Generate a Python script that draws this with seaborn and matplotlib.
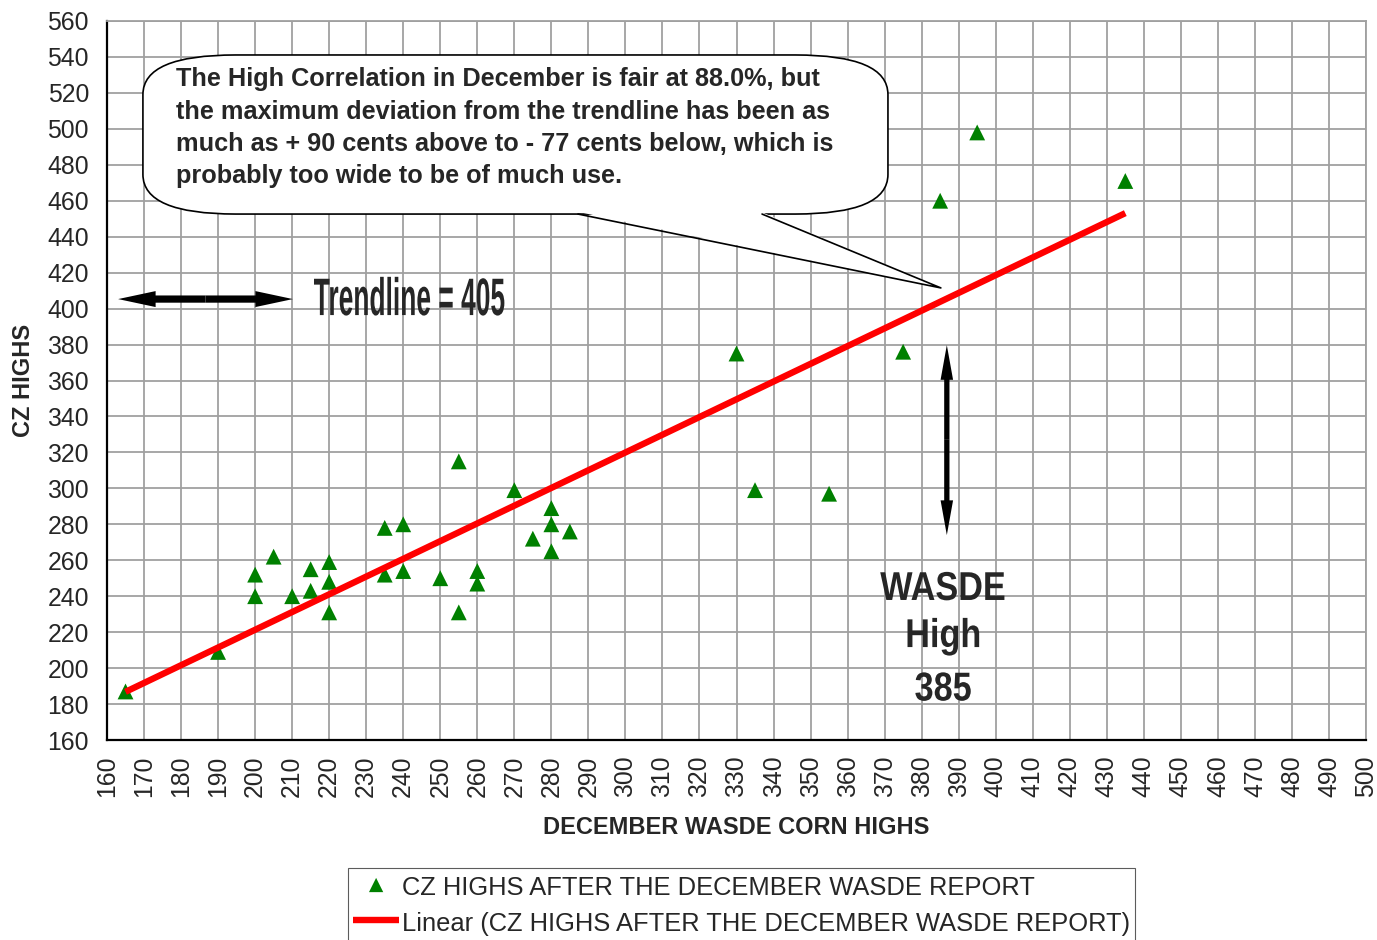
import numpy as np
import pandas as pd
import matplotlib
matplotlib.use('Agg')
import matplotlib.pyplot as plt
import matplotlib.patheffects as pe
from matplotlib.patches import FancyBboxPatch, Polygon, FancyArrowPatch
from matplotlib.transforms import Affine2D
import seaborn as sns

# valeurs
wasde = [165, 190, 200, 200, 205, 210, 215, 215, 220, 220, 220, 235, 235, 240, 240,
         250, 255, 255, 260, 260, 270, 275, 280, 280, 280, 285, 330, 335, 355, 375,
         385, 395, 435]
cz = [187, 209, 252, 240, 262, 240, 255, 243, 259, 248, 231, 278, 252, 280, 254,
      250, 315, 231, 254, 247, 299, 272, 289, 280, 265, 276, 375, 299, 297, 376,
      460, 498, 471]

series_name = "CZ HIGHS AFTER THE DECEMBER WASDE REPORT"
callout_lines = ["The High Correlation in December is fair at 88.0%, but",
                 "the maximum deviation from the trendline has been as",
                 "much as + 90 cents above to - 77 cents below, which is",
                 "probably too wide to be of much use."]
x_ticks = list(range(160, 501, 10))
y_ticks = list(range(160, 561, 20))


class Squeeze(pe.AbstractPathEffect):
    # compresse le texte horizontalement autour de son centre
    def __init__(self, sx):
        super().__init__()
        self.sx = sx

    def draw_path(self, renderer, gc, tpath, affine, rgbFace=None):
        ext = tpath.get_extents()
        cx = (ext.x0 + ext.x1) / 2
        a = Affine2D().translate(-cx, 0).scale(self.sx, 1).translate(cx, 0) + affine
        renderer.draw_path(gc, tpath, a, rgbFace)


sns.set_style("white")
plt.rcParams['font.family'] = ['Liberation Sans', 'DejaVu Sans']

df = pd.DataFrame({"wasde": wasde, "cz": cz})

fig = plt.figure(figsize=(13.77, 9.40), dpi=100)
ax = fig.add_axes([107 / 1377, 1 - 740 / 940, (1366 - 107) / 1377, (740 - 21) / 940])

sns.scatterplot(data=df, x="wasde", y="cz", marker="^", color="#008000", s=130,
                edgecolor="none", ax=ax, label=series_name, zorder=3)

# tendance lineaire (moindres carres)
coef = np.polyfit(df["wasde"], df["cz"], 1)
xs = np.array([df["wasde"].min(), df["wasde"].max()])
ax.plot(xs, np.polyval(coef, xs), color="#ff0000", lw=4.6, solid_capstyle="butt",
        zorder=4, label="Linear (" + series_name + ")")

ax.set_xlim(160, 500)
ax.set_ylim(160, 560)
ax.set_xticks(x_ticks)
ax.set_yticks(y_ticks)
ax.set_xticklabels([str(v) for v in x_ticks], rotation=90)
ax.tick_params(axis="both", labelsize=17.8, length=7, width=1.5, color="black",
               direction="out")
ax.tick_params(axis="y", pad=6)
ax.tick_params(axis="x", pad=4)
ax.grid(True, color="#a0a0a0", lw=1.3)
ax.set_axisbelow(True)
for s in ["left", "bottom"]:
    ax.spines[s].set_color("black")
    ax.spines[s].set_linewidth(1.6)
for s in ["top", "right"]:
    ax.spines[s].set_color("#a0a0a0")
    ax.spines[s].set_linewidth(1.3)

ax.set_xlabel("DECEMBER WASDE CORN HIGHS", fontsize=17, fontweight="bold", labelpad=14)
ax.set_ylabel("CZ HIGHS", fontsize=17, fontweight="bold", labelpad=9)

# bulle de commentaire
box = FancyBboxPatch((169.7, 452.6), 201.2, 88.5,
                     boxstyle="round,pad=0,rounding_size=25", mutation_aspect=0.88,
                     facecolor="white", edgecolor="black", lw=1.2, zorder=5)
ax.add_patch(box)
tip = (385.2, 411.5)
ax.add_patch(Polygon([(286.8, 454.0), tip, (336.4, 454.0)], closed=True,
                     facecolor="white", edgecolor="none", zorder=6))
ax.plot([287.2, tip[0], 336.9], [452.6, tip[1], 452.6], color="black", lw=1.2, zorder=7)
for i, line in enumerate(callout_lines):
    ax.text(178.6, 523.8 - i * 18.05, line, fontsize=18.2, fontweight="bold",
            ha="left", va="baseline", zorder=8)

# fleches
def big_arrow(p0, p1, hl, hw, tw):
    ax.add_patch(FancyArrowPatch(p0, p1, arrowstyle=f"simple,head_length={hl},head_width={hw},tail_width={tw}",
                                 mutation_scale=1, color="black", lw=0, shrinkA=0, shrinkB=0, zorder=6))

big_arrow((186.6, 405.3), (163.0, 405.3), 27, 11.5, 5.2)
big_arrow((186.6, 405.3), (210.2, 405.3), 27, 11.5, 5.2)
big_arrow((386.8, 327.0), (386.8, 379.7), 25, 9, 3.8)
big_arrow((386.8, 327.0), (386.8, 274.0), 25, 9, 3.8)

ax.text(241.7, 396.4, "Trendline = 405", fontsize=38, fontweight="bold", ha="center",
        va="baseline", path_effects=[Squeeze(0.5)], zorder=6)
for txt, yb in [("WASDE", 237.9), ("High", 211.7), ("385", 182.0)]:
    ax.text(385.8, yb, txt, fontsize=29, fontweight="bold", ha="center", va="baseline",
            path_effects=[Squeeze(0.85)], zorder=6)

leg = ax.legend(loc="upper left", bbox_to_anchor=(348 / 1377, 1 - 868 / 940),
                bbox_transform=fig.transFigure, fontsize=18.4, frameon=True, fancybox=False,
                borderpad=0.2, labelspacing=0.37, handlelength=1.8, handleheight=1.2,
                handletextpad=0.12, borderaxespad=0, markerscale=0.9)
leg.get_frame().set_edgecolor("#333333")
leg.get_frame().set_linewidth(0.8)

fig.savefig("out.png", dpi=100)
